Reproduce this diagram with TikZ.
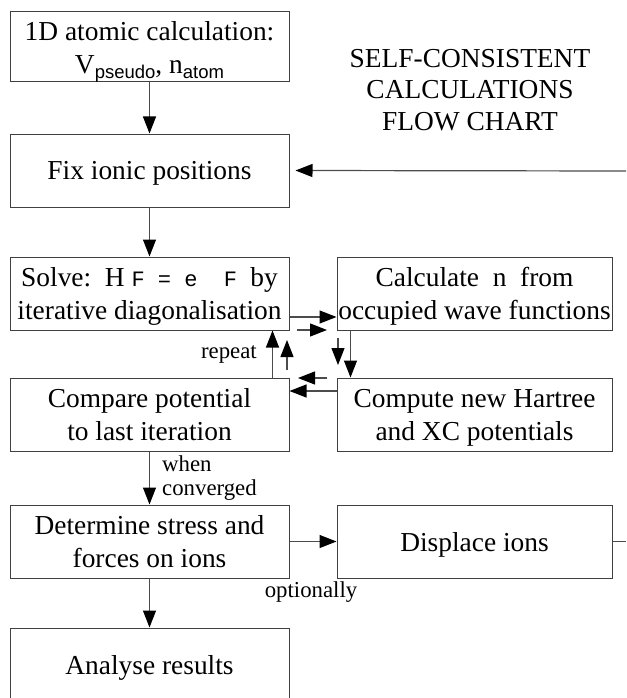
\documentclass[tikz,border=0pt]{standalone}
\usepackage{fontspec}
\setmainfont{Liberation Serif}
\newfontfamily\sansf{Liberation Sans}
\newfontfamily\monof{Liberation Mono}
\usetikzlibrary{arrows.meta,calc}
\newcommand\lowsf[1]{\raisebox{-5pt}{\sansf\fontsize{18.5}{20}\selectfont #1}}
\newcommand\smallmono[1]{{\monof\fontsize{22}{24}\selectfont #1}}
\begin{document}
\begin{tikzpicture}[x=1pt,y=-1pt,
  box/.style={draw=black!75, line width=1pt, inner sep=0pt, minimum width=279pt,
    minimum height=73pt, align=center, text depth=0pt,
    font=\fontsize{27.4}{33}\selectfont},
  rbox/.style={box, minimum width=275pt},
  lbl/.style={font=\fontsize{22.8}{24}\selectfont, inner sep=0pt},
  ln/.style={draw=black!70, line width=1.2pt},
  arr/.style={ln, -{Triangle[length=17pt,width=13pt,color=black]}}]
\useasboundingbox (0,0) rectangle (626,698);

% boxes
\node[box, minimum height=70pt] (atom) at (149.5,47) {1D atomic calculation:\\V\lowsf{pseudo}, n\lowsf{atom}};
\node[box] (fix) at (149.5,170.5) {Fix ionic positions};
\node[box] (solve) at (149.5,293.5) {Solve:~~H \smallmono{F = e~~F~}by\\iterative diagonalisation};
\node[rbox] (calc) at (474.5,293.5) {Calculate~~n~~from\\occupied wave functions};
\node[box] (compare) at (149.5,414.5) {Compare potential\\to last iteration};
\node[rbox] (compute) at (474.5,414.5) {Compute new Hartree\\and XC potentials};
\node[box] (determine) at (149.5,541.5) {Determine stress and\\forces on ions};
\node[rbox] (displace) at (474.5,541.5) {Displace ions};
\node[box] (analyse) at (149.5,664.5) {Analyse results};

% title
\node[align=center, inner sep=0pt, anchor=north, font=\fontsize{27.4}{31.5}\selectfont] (title) at (470,49)
  {SELF-CONSISTENT\\CALCULATIONS\\FLOW CHART};

% free ends
\coordinate (rin) at (626,171);
\coordinate (rout) at (626,541.5);
\coordinate (a1) at (297,330);
\coordinate (a2) at (327,330);
\coordinate (b1) at (287,370);
\coordinate (b2) at (287,340);
\coordinate (c1) at (338,338);
\coordinate (c2) at (338,365);
\coordinate (d1) at (327,378);
\coordinate (d2) at (298,378);

% connectors
\draw[arr] (atom.south) -- (fix.north);
\draw[arr] (fix.south) -- (solve.north);
\draw[arr] (rin) -- ($(fix.east)+(6,0)$);
\draw[arr] ($(solve.east)+(0,23.5)$) -- ($(calc.west)+(0,23.5)$);
\draw[arr] ($(calc.south west)+(14,0)$) -- ($(compute.north west)+(14,0)$);
\draw[arr] ($(compute.west)+(0,-23.5)$) -- ($(compare.east)+(0,-23.5)$);
\draw[arr] ($(compare.north east)+(-17,0)$) -- ($(solve.south east)+(-17,0)$);
\draw[arr] (a1) -- (a2);
\draw[arr] (b1) -- (b2);
\draw[arr] (c1) -- (c2);
\draw[arr] (d1) -- (d2);
\draw[arr] (compare.south) -- (determine.north);
\draw[arr] (determine.east) -- (displace.west);
\draw[ln] (displace.east) -- (rout);
\draw[arr] (determine.south) -- (analyse.north);

% labels
\node[lbl, anchor=base east] (repeat) at (257,358) {repeat};
\node[lbl, anchor=base west] (when) at (162,471) {when};
\node[lbl, anchor=base west] (conv) at (162,495) {converged};
\node[lbl, anchor=base] (opt) at (311,597) {optionally};
\end{tikzpicture}
\end{document}
